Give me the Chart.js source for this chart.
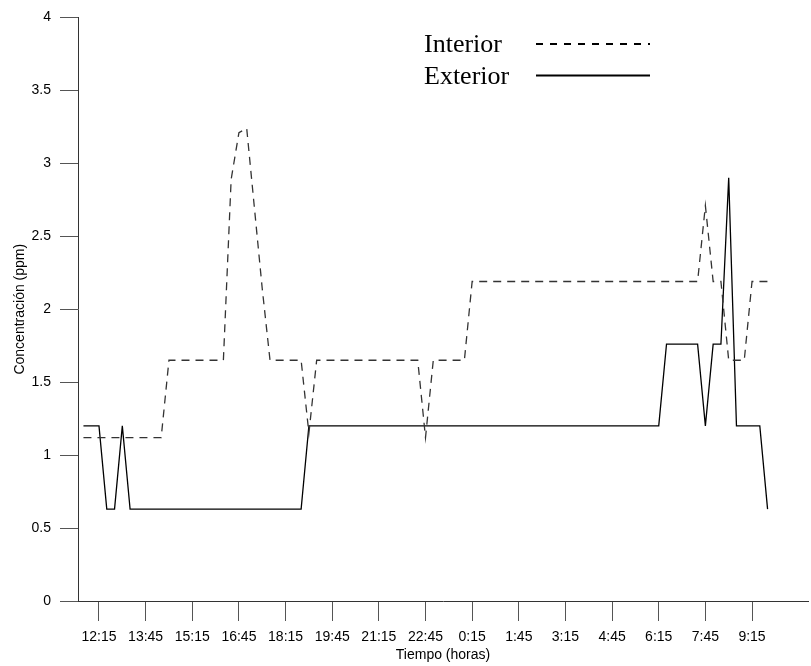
<!DOCTYPE html>
<html lang="es">
<head>
<meta charset="utf-8">
<title>Concentración interior y exterior</title>
<script src="https://cdn.jsdelivr.net/npm/chart.js@4.4.1/dist/chart.umd.min.js"></script>
<style>
  body { margin: 0; background: #fff; }
  canvas { display: block; }
</style>
</head>
<body>
<canvas id="grafico" width="811" height="666"></canvas>
<script>
// Mediciones cada 15 minutos
const horas = [
  "11:45",
  "12:00", "12:15", "12:30", "12:45", "13:00", "13:15", "13:30", "13:45",
  "14:00", "14:15", "14:30", "14:45", "15:00", "15:15", "15:30", "15:45",
  "16:00", "16:15", "16:30", "16:45", "17:00", "17:15", "17:30", "17:45",
  "18:00", "18:15", "18:30", "18:45", "19:00", "19:15", "19:30", "19:45",
  "20:00", "20:15", "20:30", "20:45", "21:00", "21:15", "21:30", "21:45",
  "22:00", "22:15", "22:30", "22:45", "23:00", "23:15", "23:30", "23:45",
  "0:00", "0:15", "0:30", "0:45", "1:00", "1:15", "1:30", "1:45",
  "2:00", "2:15", "2:30", "2:45", "3:00", "3:15", "3:30", "3:45",
  "4:00", "4:15", "4:30", "4:45", "5:00", "5:15", "5:30", "5:45",
  "6:00", "6:15", "6:30", "6:45", "7:00", "7:15", "7:30", "7:45",
  "8:00", "8:15", "8:30", "8:45", "9:00", "9:15", "9:30", "9:45"
];

const interior = [
  1.12,
  1.12, 1.12, 1.12, 1.12, 1.12, 1.12, 1.12, 1.12,
  1.12, 1.12, 1.65, 1.65, 1.65, 1.65, 1.65, 1.65,
  1.65, 1.65, 2.89, 3.21, 3.24, 2.69, 2.14, 1.65,
  1.65, 1.65, 1.65, 1.65, 1.15, 1.65, 1.65, 1.65,
  1.65, 1.65, 1.65, 1.65, 1.65, 1.65, 1.65, 1.65,
  1.65, 1.65, 1.65, 1.12, 1.65, 1.65, 1.65, 1.65,
  1.65, 2.19, 2.19, 2.19, 2.19, 2.19, 2.19, 2.19,
  2.19, 2.19, 2.19, 2.19, 2.19, 2.19, 2.19, 2.19,
  2.19, 2.19, 2.19, 2.19, 2.19, 2.19, 2.19, 2.19,
  2.19, 2.19, 2.19, 2.19, 2.19, 2.19, 2.19, 2.71,
  2.19, 2.19, 1.65, 1.65, 1.65, 2.19, 2.19, 2.19
];

const exterior = [
  1.2,
  1.2, 1.2, 0.63, 0.63, 1.2, 0.63, 0.63, 0.63,
  0.63, 0.63, 0.63, 0.63, 0.63, 0.63, 0.63, 0.63,
  0.63, 0.63, 0.63, 0.63, 0.63, 0.63, 0.63, 0.63,
  0.63, 0.63, 0.63, 0.63, 1.2, 1.2, 1.2, 1.2,
  1.2, 1.2, 1.2, 1.2, 1.2, 1.2, 1.2, 1.2,
  1.2, 1.2, 1.2, 1.2, 1.2, 1.2, 1.2, 1.2,
  1.2, 1.2, 1.2, 1.2, 1.2, 1.2, 1.2, 1.2,
  1.2, 1.2, 1.2, 1.2, 1.2, 1.2, 1.2, 1.2,
  1.2, 1.2, 1.2, 1.2, 1.2, 1.2, 1.2, 1.2,
  1.2, 1.2, 1.76, 1.76, 1.76, 1.76, 1.76, 1.2,
  1.76, 1.76, 2.9, 1.2, 1.2, 1.2, 1.2, 0.63
];

const etiquetasX = [
  "12:15", "13:45", "15:15", "16:45", "18:15", "19:45", "21:15", "22:45",
  "0:15", "1:45", "3:15", "4:45", "6:15", "7:45", "9:15"
];

const fuenteEjes = { family: "'Liberation Sans', Arial, sans-serif", size: 14 };

function puntos(serie) {
  return horas.map((h, i) => ({ x: i, y: serie[i] }));
}

// Leyenda dibujada dentro del área, texto a la izquierda de la línea
const leyenda = {
  id: "leyenda",
  afterDraw(chart) {
    const ctx = chart.ctx;
    ctx.save();
    ctx.font = "26px 'Liberation Serif', 'Times New Roman', serif";
    ctx.fillStyle = "#000";
    ctx.textBaseline = "alphabetic";
    chart.data.datasets.forEach((ds, i) => {
      const yTexto = 52 + i * 31.5;
      ctx.fillText(ds.label, 424, yTexto);
      ctx.beginPath();
      ctx.setLineDash(ds.borderDash ? [7, 7] : []);
      ctx.lineWidth = 2;
      ctx.strokeStyle = "#000";
      ctx.moveTo(536, yTexto - 8);
      ctx.lineTo(650, yTexto - 8);
      ctx.stroke();
    });
    ctx.restore();
  }
};

const grafico = new Chart(document.getElementById("grafico"), {
  type: "line",
  data: {
    datasets: [
      {
        label: "Interior",
        data: puntos(interior),
        borderColor: "#333",
        borderWidth: 1.3,
        borderDash: [8, 6],
        pointRadius: 0,
        tension: 0,
        fill: false
      },
      {
        label: "Exterior",
        data: puntos(exterior),
        borderColor: "#000",
        borderWidth: 1.3,
        pointRadius: 0,
        tension: 0,
        fill: false
      }
    ]
  },
  options: {
    responsive: false,
    animation: false,
    layout: { padding: { top: 15, right: 3, left: 0, bottom: 0 } },
    plugins: {
      legend: { display: false },
      tooltip: { enabled: false }
    },
    scales: {
      x: {
        type: "linear",
        min: -0.7,
        max: 93.2,
        afterFit: s => { s.height = 65; },
        afterBuildTicks: s => {
          s.ticks = etiquetasX.map(t => ({ value: horas.indexOf(t) }));
        },
        grid: { drawOnChartArea: false, tickLength: 20, color: "#555" },
        border: { color: "#333", width: 1 },
        ticks: {
          color: "#000",
          font: fuenteEjes,
          padding: 8,
          maxRotation: 0,
          autoSkip: false,
          callback: v => horas[v]
        },
        title: {
          display: true,
          text: "Tiempo (horas)",
          color: "#000",
          font: fuenteEjes,
          padding: { top: 0, bottom: 2 }
        }
      },
      y: {
        min: 0,
        max: 4,
        afterFit: s => { s.width = 78; },
        grid: { drawOnChartArea: false, tickLength: 18, color: "#555" },
        border: { color: "#333", width: 1 },
        ticks: {
          stepSize: 0.5,
          color: "#000",
          font: fuenteEjes,
          padding: 9,
          callback: v => String(v)
        },
        title: {
          display: true,
          text: "Concentración (ppm)",
          color: "#000",
          font: fuenteEjes,
          padding: { top: 12, bottom: 0 }
        }
      }
    }
  },
  plugins: [leyenda]
});
</script>
</body>
</html>
